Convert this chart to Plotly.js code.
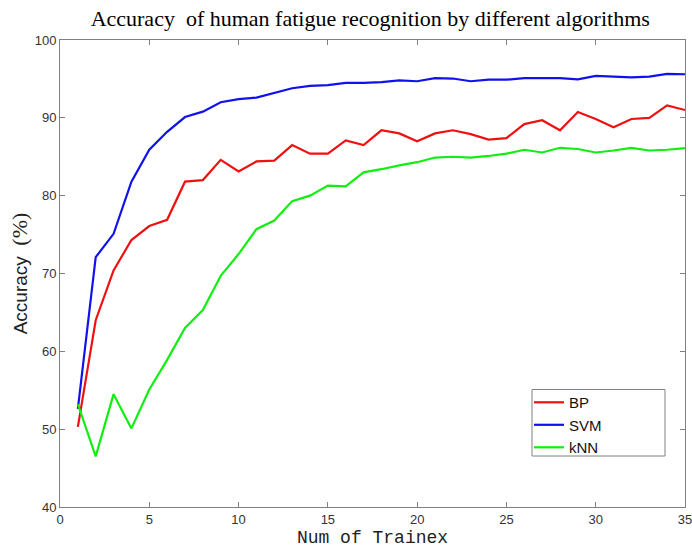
<!DOCTYPE html>
<html>
<head>
<meta charset="utf-8">
<script src="https://cdn.plot.ly/plotly-3.0.1.min.js"></script>
<style>html,body{margin:0;padding:0;background:#fff;}#chart{width:692px;height:554px;}</style>
</head>
<body>
<div id="chart"></div>
<script>
const trainNum = [1,2,3,4,5,6,7,8,9,10,11,12,13,14,15,16,17,18,19,20,21,22,23,24,25,26,27,28,29,30,31,32,33,34,35];
const bpAcc = [50.3,64.0,70.4,74.3,76.1,76.9,81.8,82.0,84.6,83.1,84.4,84.5,86.5,85.4,85.4,87.1,86.5,88.4,88.0,87.0,88.0,88.4,87.9,87.2,87.4,89.2,89.7,88.4,90.75,89.85,88.8,89.85,90.0,91.6,91.0];
const svmAcc = [52.6,72.1,75.1,81.8,85.9,88.2,90.1,90.8,92.0,92.4,92.6,93.2,93.8,94.1,94.2,94.5,94.5,94.6,94.8,94.7,95.1,95.05,94.7,94.9,94.9,95.1,95.1,95.1,94.95,95.4,95.3,95.2,95.3,95.65,95.6];
const knnAcc = [53.2,46.5,54.5,50.1,55.1,58.9,63.0,65.3,69.7,72.5,75.7,76.8,79.3,80.0,81.3,81.2,83.0,83.4,83.9,84.3,84.9,85.0,84.9,85.1,85.4,85.9,85.55,86.15,86.0,85.55,85.8,86.15,85.8,85.9,86.1];
const seriesNames = ['BP','SVM','kNN'];
const xTicks = [0,5,10,15,20,25,30,35];
const yTicks = [40,50,60,70,80,90,100];

const colors = ['#ee1111','#1111ee','#11ee11'];
const ys = [bpAcc, svmAcc, knnAcc];
const traces = ys.map((y,i)=>({
  x: trainNum, y: y, name: seriesNames[i], type:'scatter', mode:'lines',
  line:{color:colors[i], width:2.2}
}));
const tickFont = {family:'"Liberation Sans",Arial,sans-serif', size:13, color:'#333'};
const axisCommon = {
  showline:true, linecolor:'#808080', linewidth:1, mirror:'ticks',
  ticks:'inside', ticklen:5, tickcolor:'#808080', showgrid:false, zeroline:false,
  tickfont: tickFont, ticklabeloverflow:'allow'
};
const layout = {
  width:692, height:554,
  margin:{l:60, r:7, t:40, b:47},
  paper_bgcolor:'#fff', plot_bgcolor:'#fff',
  showlegend:true,
  title:{text:'Accuracy  of human fatigue recognition by different algorithms', x:0.535, xanchor:'center', y:0.967, yanchor:'middle',
    font:{family:'"Liberation Serif","Times New Roman",serif', size:22, color:'#000'}},
  xaxis: Object.assign({}, axisCommon, {range:[0,35], tickvals:xTicks, ticktext:xTicks.map(String),
    title:{text:'Num of Trainex', standoff:4, font:{family:'"Liberation Mono","DejaVu Sans Mono",monospace', size:18, color:'#222'}}}),
  yaxis: Object.assign({}, axisCommon, {range:[40,100], tickvals:yTicks,
    title:{text:'Accuracy\u00a0\u00a0<span style="font-family:Liberation Serif;font-size:22px">(%)</span>', standoff:2,
      font:{family:'"Liberation Sans","Noto Sans",sans-serif', size:19, color:'#222'}}}),
  shapes:[{type:'rect', xref:'paper', yref:'paper', x0:0.7552, x1:0.968, y0:0.1092, y1:0.2516,
    line:{color:'#808080', width:1}, fillcolor:'#fff', layer:'below'}],
  legend:{x:0.7504, y:0.259, xanchor:'left', yanchor:'top', bgcolor:'rgba(0,0,0,0)', borderwidth:0,
    font:{family:'"Liberation Sans","Noto Sans",Arial,sans-serif', size:15, color:'#111'},
    tracegroupgap:0, itemwidth:30}
};
Plotly.newPlot('chart', traces, layout, {displayModeBar:false, staticPlot:true});
</script>
</body>
</html>
